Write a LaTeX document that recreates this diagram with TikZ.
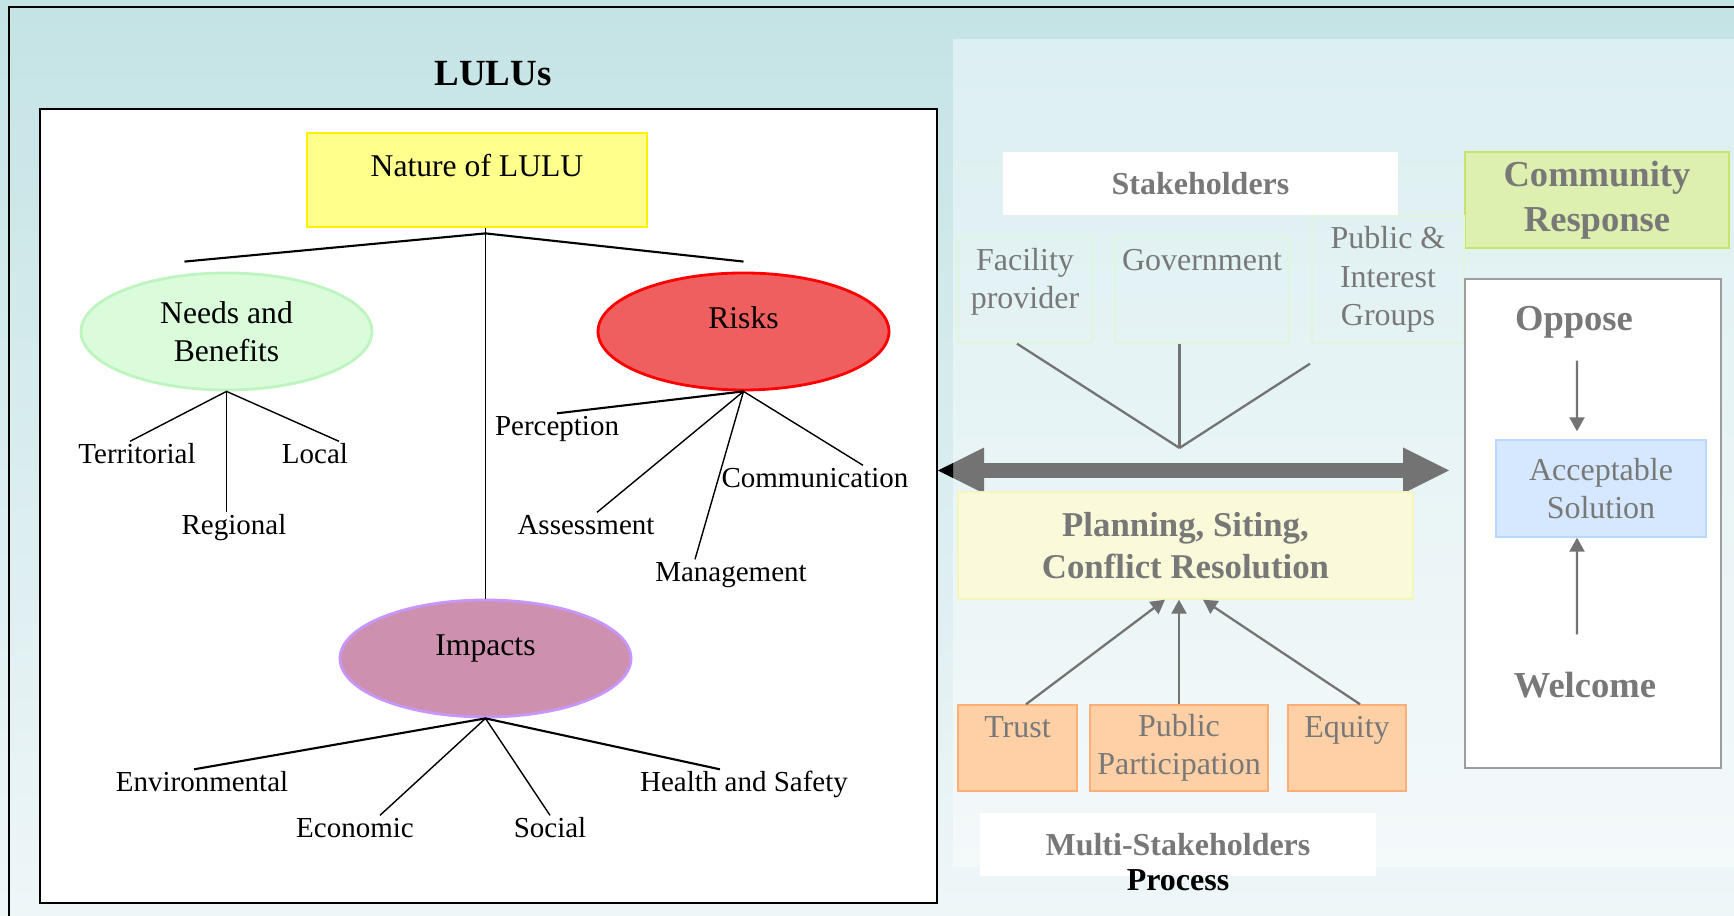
\documentclass[tikz,border=0pt]{standalone}
\usepackage{fontspec}
\setmainfont{Liberation Serif}
\usetikzlibrary{positioning,shapes.geometric,arrows.meta}
\definecolor{bgtop}{RGB}{196,227,229}
\definecolor{bgbot}{RGB}{238,246,248}
\definecolor{paneltop}{RGB}{220,239,241}
\definecolor{panelbot}{RGB}{244,249,250}
\definecolor{lulufill}{RGB}{255,255,140}
\definecolor{needfill}{RGB}{218,252,218}
\definecolor{needline}{RGB}{190,245,190}
\definecolor{riskfill}{RGB}{240,95,95}
\definecolor{impfill}{RGB}{205,145,175}
\definecolor{impline}{RGB}{200,150,250}
\definecolor{greytext}{RGB}{120,120,120}
\definecolor{greyline}{RGB}{115,115,115}
\definecolor{respfill}{RGB}{222,240,175}
\definecolor{respline}{RGB}{200,228,110}
\definecolor{okfill}{RGB}{214,232,255}
\definecolor{okline}{RGB}{185,215,255}
\definecolor{factfill}{RGB}{255,208,165}
\definecolor{factline}{RGB}{255,175,115}
\definecolor{planfill}{RGB}{250,250,218}
\definecolor{planline}{RGB}{245,245,190}
\definecolor{grpline}{RGB}{222,245,222}

\begin{document}
\begin{tikzpicture}[node distance=1cm,on grid,
  title/.style={font=\fontsize{10.5}{12.6}\selectfont\bfseries},
  topbox/.style={font=\fontsize{9}{10.8}\selectfont},
  topic/.style={ellipse,minimum width=2.91cm,minimum height=1.17cm,inner sep=0pt,align=center,line width=0.8pt,topbox},
  leaf/.style={font=\fontsize{8.25}{9.9}\selectfont,inner sep=0.5pt,text height=0.2cm,text depth=0.064cm},
  branch/.style={line width=0.4pt},
  bigbranch/.style={line width=0.6pt},
  greyword/.style={text=greytext,font=\fontsize{9.1}{10.9}\selectfont},
  greybold/.style={text=greytext,font=\fontsize{9.1}{10.9}\selectfont\bfseries},
  bigbold/.style={text=greytext,font=\fontsize{10.4}{12.7}\selectfont\bfseries},
  plainbox/.style={fill=white,inner sep=0pt},
  grp/.style={draw=grpline,greyword,align=center,inner sep=0pt},
  factor/.style={draw=factline,fill=factfill,minimum height=0.86cm,greyword,align=center,inner sep=0pt},
  vline/.style={draw=greyline,line width=0.65pt},
  flow/.style={draw=greyline,line width=0.65pt,-{Triangle[length=0.14cm,width=0.15cm]}},
  bigarrow/.style={draw=greyline,line width=0.15cm,{Triangle[length=0.46cm,width=0.46cm,line width=0pt]}-{Triangle[length=0.46cm,width=0.46cm,line width=0pt]}}]
\useasboundingbox (0,0) rectangle (17.34,-9.16);
\fill[top color=bgtop,bottom color=bgbot] (0,0) rectangle (17.34,-9.16);
\draw[line width=0.7pt] (0.09,-9.3) |- (17.5,-0.07);
\fill[top color=paneltop,bottom color=panelbot] (9.53,-0.40) rectangle (17.34,-8.67);

\node[title] (lulus) at (4.93,-0.74) {LULUs};
\node[draw,fill=white,line width=0.6pt,minimum width=8.97cm,minimum height=7.94cm] (frame) at (4.885,-5.06) {};

\node[draw=yellow,fill=lulufill,line width=0.8pt,minimum width=3.40cm,minimum height=0.94cm,text height=0.22cm,text depth=0.29cm,topbox] (nature) at (4.77,-1.80) {Nature of LULU};
\node[topic,draw=needline,fill=needfill] (needs) at (2.265,-3.315) {Needs and\\Benefits};
\node[topic,draw=red,fill=riskfill,text height=0.215cm,text depth=0.27cm] (risks) at (7.435,-3.315) {Risks};
\node[topic,draw=impline,fill=impfill,text height=0.215cm,text depth=0.27cm] (impacts) at (4.855,-6.585) {Impacts};

\node[leaf] (terr) [below left=1.255cm and 0.895cm of needs] {Territorial};
\node[leaf] (local) [below right=1.255cm and 0.885cm of needs] {Local};
\node[leaf] (regional) [below right=1.965cm and 0.075cm of needs] {Regional};
\node[leaf] (perc) [below left=0.975cm and 1.865cm of risks] {Perception};
\node[leaf] (assess) [below left=1.965cm and 1.575cm of risks] {Assessment};
\node[leaf] (manage) [below left=2.435cm and 0.125cm of risks] {Management};
\node[leaf] (comm) [below right=1.495cm and 0.715cm of risks] {Communication};
\node[leaf] (env) [below left=1.265cm and 2.835cm of impacts] {Environmental};
\node[leaf] (econ) [below left=1.725cm and 1.305cm of impacts] {Economic};
\node[leaf] (social) [below right=1.725cm and 0.645cm of impacts] {Social};
\node[leaf] (health) [below right=1.265cm and 2.585cm of impacts] {Health and Safety};

\coordinate (fork) at ([yshift=-0.05cm]impacts.north |- nature.south);
\draw[bigbranch] ([shift={(-0.42,0.1)}]needs.north) -- (fork) -- ([yshift=0.1cm]risks.north);
\draw[branch] (impacts.north |- nature.south) -- (impacts.north);
\draw[branch] ([xshift=-0.07cm]terr.north) -- (needs.south) -- ([xshift=0.24cm]local.north);
\draw[branch] (needs.south) -- (needs.south |- regional.north);
\draw[bigbranch] (perc.north) -- (risks.south);
\draw[branch] ([xshift=0.11cm]assess.north) -- (risks.south);
\draw[branch] ([xshift=-0.36cm]manage.north) -- (risks.south) -- ([xshift=0.48cm]comm.north);
\draw[bigbranch] ([xshift=-0.08cm]env.north) -- (impacts.south) -- ([xshift=-0.24cm]health.north);
\draw[branch] ([xshift=0.25cm]econ.north) -- (impacts.south) -- (social.north);

\node[plainbox,minimum width=3.95cm,minimum height=0.63cm,greybold] (stake) at (12.005,-1.835) {Stakeholders};
\node[draw=respline,fill=respfill,minimum width=2.64cm,minimum height=0.96cm,inner sep=0pt,bigbold,align=center] (resp) at (15.97,-2.00) {Community\\Response};
\node[grp,minimum width=1.34cm,minimum height=1.06cm,text height=0.44cm,text depth=0.07cm] (fac) at (10.25,-2.90) {Facility\\provider};
\node[grp,minimum width=1.74cm,minimum height=1.06cm,text height=0.22cm,text depth=0.61cm] (gov) at (12.02,-2.90) {Government};
\node[grp,minimum width=1.52cm,minimum height=1.27cm] (pubg) at (13.88,-2.795) {Public \&\\Interest\\Groups};

\coordinate (hub) at (11.795,-4.48);
\draw[vline] ([xshift=-0.08cm]fac.south) -- (hub);
\draw[vline] (hub |- gov.south) -- (hub);
\draw[vline] ([shift={(-0.78,-0.2)}]pubg.south) -- (hub);

\coordinate (axis) at (14.49,-4.705);
\draw[bigarrow] (frame.east |- axis) -- (axis);
\begin{scope}
\clip (frame.east |- axis) ++(-0.1,0.3) rectangle (9.53,-5.1);
\draw[bigarrow,draw=black] (frame.east |- axis) -- (axis);
\end{scope}

\node[draw=planline,fill=planfill,minimum width=4.55cm,minimum height=1.07cm,inner sep=0pt,align=center,text=greytext,font=\fontsize{9.9}{12}\selectfont\bfseries] (plan) at (11.855,-5.455) {Planning, Siting,\\Conflict Resolution};

\node[factor,minimum width=1.19cm,text height=0.22cm,text depth=0.43cm] (trust) at (10.175,-7.48) {Trust};
\node[factor,minimum width=1.78cm] (pubp) at (11.79,-7.48) {Public\\Participation};
\node[factor,minimum width=1.18cm,text height=0.22cm,text depth=0.43cm] (equity) at (13.47,-7.48) {Equity};
\draw[flow] ([xshift=0.085cm]trust.north) -- ([xshift=-0.205cm]plan.south);
\draw[flow] (pubp.north) -- (pubp.north |- plan.south);
\draw[flow] ([xshift=0.13cm]equity.north) -- ([xshift=0.175cm]plan.south);

\node[plainbox,minimum width=3.96cm,minimum height=0.63cm,greybold] (multi) at (11.78,-8.445) {Multi-Stakeholders};
\node[font=\fontsize{9.1}{10.9}\selectfont\bfseries] (process) [below=0.355cm of multi] {Process};

\node[draw=greyline!70,line width=0.5pt,fill=white,minimum width=2.56cm,minimum height=4.89cm] (side) at (15.93,-5.235) {};
\node[bigbold,inner sep=0pt] (oppose) at (15.74,-3.22) {Oppose};
\node[draw=okline,fill=okfill,minimum width=2.10cm,minimum height=0.97cm,inner sep=0pt,greyword,align=center] (okbox) at (16.01,-4.885) {Acceptable\\Solution};
\node[bigbold,inner sep=0pt] (welcome) at (15.85,-6.85) {Welcome};
\draw[flow] ([shift={(0.03,-0.22)}]oppose.south) -- ([shift={(-0.24,0.08)}]okbox.north);
\draw[flow] ([shift={(-0.08,0.37)}]welcome.north) -- ([xshift=-0.24cm]okbox.south);
\end{tikzpicture}
\end{document}
